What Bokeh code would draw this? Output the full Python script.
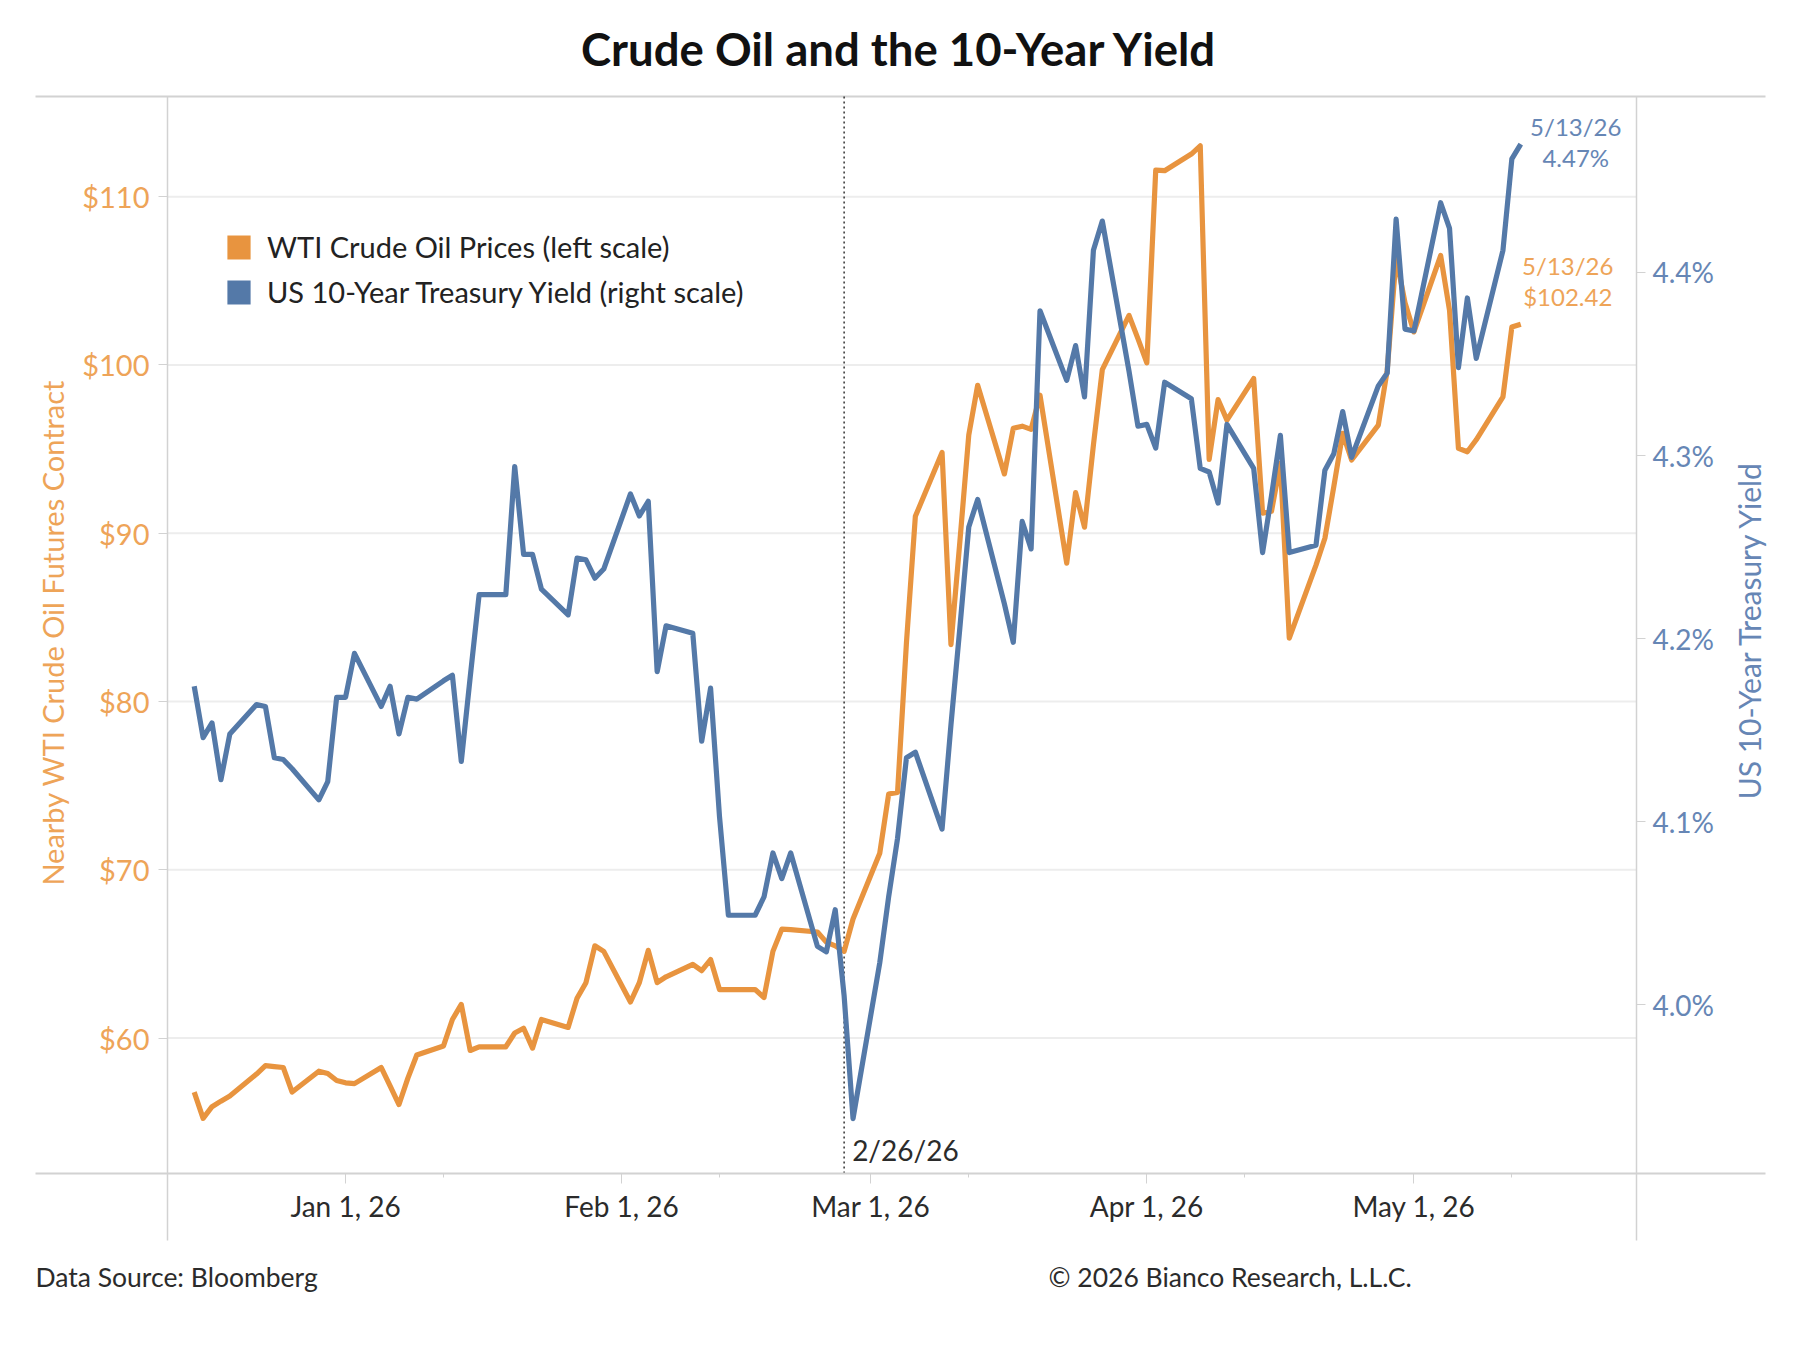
import pandas as pd
from bokeh.plotting import figure
from bokeh.models import (Range1d, LinearAxis, DatetimeAxis, FixedTicker, NumeralTickFormatter,
                          PrintfTickFormatter, DatetimeTickFormatter, Label, Legend, LegendItem)
from bokeh.embed import file_html
from bokeh.resources import INLINE

# weekdays, holidays carried forward
dates = pd.bdate_range("2025-12-15", "2026-05-13")

# WTI crude oil, $/bbl (left scale)
wti = [56.79, 55.23, 55.92, 56.25, 56.55, 57.86, 58.36, 58.30, 58.25, 56.79, 58.03, 57.89, 57.48,
       57.34, 57.29, 58.25, 57.15, 56.05, 57.62, 58.99, 59.53, 61.10, 62.00, 59.26, 59.48, 59.48,
       60.30, 60.58, 59.40, 61.10, 60.63, 62.36, 63.29, 65.48, 65.15,
       62.14, 63.29, 65.21, 63.29, 63.64, 64.38, 64.00, 64.66, 62.88, 62.88, 62.88, 62.41, 65.15,
       66.47, 66.44, 66.30, 65.70, 65.48, 65.15, 67.07,
       70.98, 74.50, 74.60, 83.50, 91.00, 94.80, 83.38, 89.50, 95.83, 98.79, 93.52, 96.23, 96.36,
       96.17, 98.20, 88.22, 92.41, 90.36, 95.24, 99.72, 102.94, 101.56,
       100.12, 111.58, 111.54, 112.53, 113.02, 94.39, 97.94, 96.72, 99.19, 91.19, 91.30, 94.15,
       83.77, 88.10, 89.70, 92.77, 95.93, 94.35, 96.42, 99.68, 106.40, 103.70,
       101.96, 106.50, 103.24, 95.04, 94.84, 95.55, 98.10, 102.25, 102.42]

# US 10-year treasury yield, % (right scale)
ust10 = [4.174, 4.146, 4.154, 4.123, 4.148, 4.164, 4.163, 4.135, 4.134, 4.129, 4.112, 4.122, 4.168,
         4.168, 4.192, 4.163, 4.174, 4.148, 4.168, 4.167, 4.177, 4.180, 4.133, 4.179, 4.224, 4.224,
         4.294, 4.246, 4.246, 4.227, 4.213, 4.244, 4.243, 4.233, 4.238,
         4.279, 4.267, 4.275, 4.182, 4.207, 4.203, 4.144, 4.173, 4.103, 4.049, 4.049, 4.059, 4.083,
         4.069, 4.083, 4.032, 4.029, 4.052, 4.005, 3.938,
         4.023, 4.059, 4.091, 4.135, 4.138, 4.096, 4.153, 4.206, 4.261, 4.276, 4.219, 4.198, 4.264,
         4.249, 4.379, 4.341, 4.360, 4.332, 4.412, 4.428, 4.346, 4.316,
         4.317, 4.304, 4.340, 4.331, 4.293, 4.291, 4.274, 4.317, 4.293, 4.247, 4.278, 4.311,
         4.247, 4.251, 4.292, 4.301, 4.324, 4.299, 4.338, 4.345, 4.429, 4.369,
         4.368, 4.438, 4.424, 4.348, 4.386, 4.353, 4.412, 4.462, 4.470]

oil_ticks = [60, 70, 80, 90, 100, 110]
yield_ticks = [4.0, 4.1, 4.2, 4.3, 4.4]
month_ticks = ["2026-01-01", "2026-02-01", "2026-03-01", "2026-04-01", "2026-05-01"]
minor_ticks = ["2026-01-12", "2026-02-12", "2026-03-12", "2026-04-12", "2026-05-12"]
event_date = "2026-02-26"

oil_range = (51.95, 115.95)
yield_range = (3.908, 4.496)
date_range = ("2025-12-12", "2026-05-26")

ORANGE = "#e8943f"
BLUE = "#5479a8"
ORANGE_TXT = "#eea458"
BLUE_TXT = "#6686b5"
DARK = "#2b2b2b"
RULE = "#d2d2d2"
FONT = "Lato"

# canvas layout in px from top-left (figure frame covers the whole canvas)
W, H = 1800, 1340
AX_L, AX_R = 167, 1636
AX_T, AX_B, AX_EXT = 96, 1173, 1240
LINE_L, LINE_R = 35, 1765


def ms(d):
    return pd.Timestamp(d).value / 1e6


d0, d1 = ms(date_range[0]), ms(date_range[1])
ms_px = (d1 - d0) / (AX_R - AX_L)
oil_px = (oil_range[1] - oil_range[0]) / (AX_B - AX_T)
yld_px = (yield_range[1] - yield_range[0]) / (AX_B - AX_T)


def x_at(px):
    return d0 + (px - AX_L) * ms_px


def oil_at(py):
    return oil_range[0] + (AX_B - py) * oil_px


def yld_at(py):
    return yield_range[0] + (AX_B - py) * yld_px


p = figure(width=W, height=H, output_backend="svg", toolbar_location=None,
           x_range=Range1d(x_at(0), x_at(W)), y_range=Range1d(oil_at(H), oil_at(0)),
           x_axis_location=None, y_axis_location=None, min_border=0,
           outline_line_color=None, background_fill_color="white", border_fill_color="white")
p.extra_y_ranges = {"yld": Range1d(yld_at(H), yld_at(0))}
p.xgrid.visible = False
p.ygrid.visible = False

# top rule and horizontal gridlines
p.segment(x0=[x_at(LINE_L)], x1=[x_at(LINE_R)], y0=[oil_range[1]], y1=[oil_range[1]],
          line_color=RULE, line_width=2)
p.segment(x0=[d0] * len(oil_ticks), x1=[d1] * len(oil_ticks), y0=oil_ticks, y1=oil_ticks,
          line_color="#ededed", line_width=2)

# axes
yl = LinearAxis(fixed_location=d0, bounds=(oil_at(AX_EXT), oil_range[1]),
                ticker=FixedTicker(ticks=oil_ticks), formatter=NumeralTickFormatter(format="$0"))
yr = LinearAxis(y_range_name="yld", fixed_location=d1, bounds=(yld_at(AX_EXT), yield_range[1]),
                ticker=FixedTicker(ticks=yield_ticks), formatter=PrintfTickFormatter(format="%.1f%%"))
for ax, col, size, so in ((yl, ORANGE_TXT, "29px", 9), (yr, BLUE_TXT, "28px", 7)):
    ax.axis_line_color = RULE
    ax.axis_line_width = 1.5
    ax.major_tick_line_color = RULE
    ax.major_tick_in = 0
    ax.major_tick_out = 9
    ax.minor_tick_line_color = None
    ax.major_label_standoff = so
    ax.major_label_text_font = FONT
    ax.major_label_text_font_size = size
    ax.major_label_text_color = col
p.add_layout(yl, "left")
p.add_layout(yr, "right")

fmt = "%b %-d, %y"
xa = DatetimeAxis(fixed_location=oil_range[0], bounds=(x_at(LINE_L), x_at(LINE_R)),
                  ticker=FixedTicker(ticks=[ms(t) for t in month_ticks],
                                     minor_ticks=[ms(t) for t in minor_ticks]),
                  formatter=DatetimeTickFormatter(days=fmt, months=fmt, years=fmt))
xa.axis_line_color = RULE
xa.axis_line_width = 2
xa.major_tick_line_color = RULE
xa.minor_tick_line_color = RULE
xa.major_tick_in = 0
xa.major_tick_out = 10
xa.minor_tick_in = 0
xa.minor_tick_out = 4
xa.major_label_standoff = 5
xa.major_label_text_font = FONT
xa.major_label_text_font_size = "28px"
xa.major_label_text_color = DARK
p.add_layout(xa, "below")

# event marker
p.segment(x0=[ms(event_date)], x1=[ms(event_date)], y0=[oil_range[0]], y1=[oil_range[1]],
          line_color="#333333", line_width=1.5, line_dash="2 3")

# series
p.line(dates, wti, line_color=ORANGE, line_width=5.2, line_join="round")
p.line(dates, ust10, line_color=BLUE, line_width=5.2, line_join="round", y_range_name="yld")

# legend with square swatches (swatch renderers draw nothing in the plot)
nan = float("nan")
sw1 = p.quad(left=[nan], right=[nan], top=[nan], bottom=[nan], fill_color=ORANGE, line_color=None)
sw2 = p.quad(left=[nan], right=[nan], top=[nan], bottom=[nan], fill_color=BLUE, line_color=None)
legend = Legend(items=[LegendItem(label="WTI Crude Oil Prices (left scale)", renderers=[sw1]),
                       LegendItem(label="US 10-Year Treasury Yield (right scale)", renderers=[sw2])],
                location=(224, H - 309), glyph_width=29, glyph_height=30, label_standoff=14,
                spacing=10, padding=0, margin=0, border_line_color=None, background_fill_alpha=0,
                label_text_font=FONT, label_text_font_size="29px", label_text_color="#222222",
                label_height=30)
p.add_layout(legend)

# end-of-series annotations
last = dates[-1]
last_txt = f"{last.month}/{last.day}/{last:%y}"
for txt, dy in ((last_txt, 18), (f"{ust10[-1]:.2f}%", -13)):
    p.add_layout(Label(x=ms(last), y=ust10[-1], y_range_name="yld", x_offset=55, y_offset=dy,
                       text=txt, text_align="center", text_baseline="middle", text_font=FONT,
                       text_font_size="24px", text_color=BLUE_TXT))
for txt, dy in ((last_txt, 59), (f"${wti[-1]:.2f}", 28)):
    p.add_layout(Label(x=ms(last), y=wti[-1], x_offset=47, y_offset=dy,
                       text=txt, text_align="center", text_baseline="middle", text_font=FONT,
                       text_font_size="24px", text_color=ORANGE_TXT))

ev = pd.Timestamp(event_date)
p.add_layout(Label(x=ms(event_date), y=oil_range[0], x_offset=8, y_offset=24,
                   text=f"{ev.month}/{ev.day}/{ev:%y}", text_align="left", text_baseline="middle",
                   text_font=FONT, text_font_size="28px", text_color=DARK))

# titles and footers (screen units, y from bottom)
p.add_layout(Label(x=899, y=H - 48, x_units="screen", y_units="screen",
                   text="Crude Oil and the 10-Year Yield", text_align="center",
                   text_baseline="middle", text_font=FONT, text_font_style="bold",
                   text_font_size="45.5px", text_color="#111111"))
p.add_layout(Label(x=52, y=H - 632, x_units="screen", y_units="screen", angle=90, angle_units="deg",
                   text="Nearby WTI Crude Oil Futures Contract", text_align="center",
                   text_baseline="middle", text_font=FONT, text_font_size="29px",
                   text_color=ORANGE_TXT))
p.add_layout(Label(x=1748, y=H - 629, x_units="screen", y_units="screen", angle=90,
                   angle_units="deg", text="US 10-Year Treasury Yield", text_align="center",
                   text_baseline="middle", text_font=FONT, text_font_size="30px",
                   text_color=BLUE_TXT))
p.add_layout(Label(x=35, y=H - 1276, x_units="screen", y_units="screen",
                   text="Data Source: Bloomberg", text_baseline="middle", text_font=FONT,
                   text_font_size="26.5px", text_color=DARK))
p.add_layout(Label(x=1048, y=H - 1276, x_units="screen", y_units="screen",
                   text="\u00a9 2026 Bianco Research, L.L.C.", text_baseline="middle",
                   text_font=FONT, text_font_size="26.5px", text_color=DARK))

open("out.html", "w").write(file_html(p, INLINE))
